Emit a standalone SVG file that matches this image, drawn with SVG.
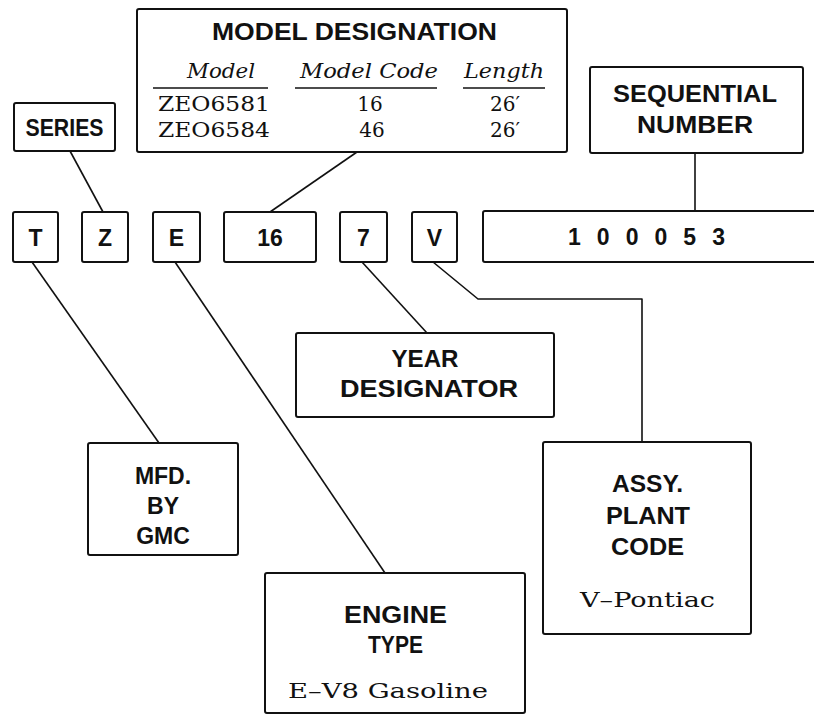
<svg xmlns="http://www.w3.org/2000/svg" width="814" height="720" viewBox="0 0 814 720">
<style>
  .box { fill: #fff; stroke: #111; stroke-width: 2; }
  .ln { fill: none; stroke: #111; stroke-width: 1.6; stroke-linejoin: round; }
  .h { font-family: "Liberation Sans", Arial, sans-serif; font-weight: bold; font-size: 23px; fill: #111; text-anchor: middle; }
  .s { font-family: "DejaVu Serif", "Liberation Serif", serif; font-size: 20px; fill: #111; text-anchor: middle; }
  .si { font-family: "DejaVu Serif", "Liberation Serif", serif; font-style: italic; font-size: 20px; fill: #111; text-anchor: middle; }
</style>
<rect width="814" height="720" fill="#fff"/>

<g id="connectors">
  <line class="ln" x1="70" y1="151" x2="103" y2="212"/>
  <line class="ln" x1="357" y1="152" x2="270" y2="212"/>
  <line class="ln" x1="695" y1="153" x2="695" y2="211"/>
  <line class="ln" x1="32" y1="262" x2="159" y2="443"/>
  <line class="ln" x1="175" y1="262" x2="385" y2="573"/>
  <line class="ln" x1="362" y1="262" x2="427" y2="333"/>
  <polyline class="ln" points="433,262 478,299 642,299 642,442"/>
</g>

<g id="model-designation">
  <rect class="box" x="137" y="9" width="430" height="143" rx="2"/>
  <text class="h" x="354.5" y="40" textLength="285" lengthAdjust="spacingAndGlyphs">MODEL  DESIGNATION</text>
  <text class="si" x="221" y="78" textLength="68" lengthAdjust="spacingAndGlyphs">Model</text>
  <text class="si" x="369" y="78" textLength="138" lengthAdjust="spacingAndGlyphs">Model Code</text>
  <text class="si" x="504" y="78" textLength="80" lengthAdjust="spacingAndGlyphs">Length</text>
  <line class="ln" x1="153" y1="88" x2="268" y2="88"/>
  <line class="ln" x1="295" y1="88" x2="437" y2="88"/>
  <line class="ln" x1="463" y1="88" x2="545" y2="88"/>
  <text class="s" x="214" y="111" textLength="112" lengthAdjust="spacingAndGlyphs">ZEO6581</text>
  <text class="s" x="370" y="111">16</text>
  <text class="s" x="505" y="111">26′</text>
  <text class="s" x="214" y="137" textLength="112" lengthAdjust="spacingAndGlyphs">ZEO6584</text>
  <text class="s" x="372" y="137">46</text>
  <text class="s" x="505" y="137">26′</text>
</g>

<g id="series">
  <rect class="box" x="14" y="103" width="101" height="48" rx="2"/>
  <text class="h" x="64.5" y="136" textLength="78" lengthAdjust="spacingAndGlyphs">SERIES</text>
</g>

<g id="sequential-number">
  <rect class="box" x="590" y="67" width="213" height="86" rx="2"/>
  <text class="h" x="695" y="102" textLength="164" lengthAdjust="spacingAndGlyphs">SEQUENTIAL</text>
  <text class="h" x="695" y="133" textLength="116" lengthAdjust="spacingAndGlyphs">NUMBER</text>
</g>

<g id="char-T">
  <rect class="box" x="13" y="212" width="45" height="50" rx="2"/>
  <text class="h" x="35.5" y="246">T</text>
</g>
<g id="char-Z">
  <rect class="box" x="82" y="212" width="46" height="50" rx="2"/>
  <text class="h" x="105" y="246">Z</text>
</g>
<g id="char-E">
  <rect class="box" x="153" y="212" width="47" height="50" rx="2"/>
  <text class="h" x="176.5" y="246">E</text>
</g>
<g id="char-16">
  <rect class="box" x="224" y="212" width="92" height="50" rx="2"/>
  <text class="h" x="270" y="246">16</text>
</g>
<g id="char-7">
  <rect class="box" x="340" y="212" width="47" height="50" rx="2"/>
  <text class="h" x="363.5" y="246">7</text>
</g>
<g id="char-V">
  <rect class="box" x="412" y="212" width="45" height="50" rx="2"/>
  <text class="h" x="434.5" y="246">V</text>
</g>
<g id="serial">
  <rect class="box" x="483" y="211" width="350" height="51" rx="2"/>
  <text class="h" x="646.5" y="245" textLength="157" lengthAdjust="spacing">100053</text>
</g>

<g id="year-designator">
  <rect class="box" x="296" y="333" width="258" height="84" rx="2"/>
  <text class="h" x="425" y="367" textLength="67" lengthAdjust="spacingAndGlyphs">YEAR</text>
  <text class="h" x="429" y="397" textLength="178" lengthAdjust="spacingAndGlyphs">DESIGNATOR</text>
</g>

<g id="mfd-by-gmc">
  <rect class="box" x="88" y="443" width="150" height="112" rx="2"/>
  <text class="h" x="163" y="484">MFD.</text>
  <text class="h" x="163" y="514">BY</text>
  <text class="h" x="163" y="544">GMC</text>
</g>

<g id="assy-plant-code">
  <rect class="box" x="543" y="442" width="208" height="192" rx="2"/>
  <text class="h" x="647.5" y="492" textLength="71" lengthAdjust="spacingAndGlyphs">ASSY.</text>
  <text class="h" x="648" y="524" textLength="84" lengthAdjust="spacingAndGlyphs">PLANT</text>
  <text class="h" x="647.5" y="555" textLength="73" lengthAdjust="spacingAndGlyphs">CODE</text>
  <text class="s" x="647.5" y="607" font-size="21" textLength="135" lengthAdjust="spacingAndGlyphs">V–Pontiac</text>
</g>

<g id="engine-type">
  <rect class="box" x="265" y="573" width="260" height="140" rx="2"/>
  <text class="h" x="395.5" y="623" textLength="103" lengthAdjust="spacingAndGlyphs">ENGINE</text>
  <text class="h" x="395.5" y="653" textLength="55" lengthAdjust="spacingAndGlyphs">TYPE</text>
  <text class="s" x="388" y="698" font-size="22" textLength="200" lengthAdjust="spacingAndGlyphs">E–V8 Gasoline</text>
</g>
</svg>
